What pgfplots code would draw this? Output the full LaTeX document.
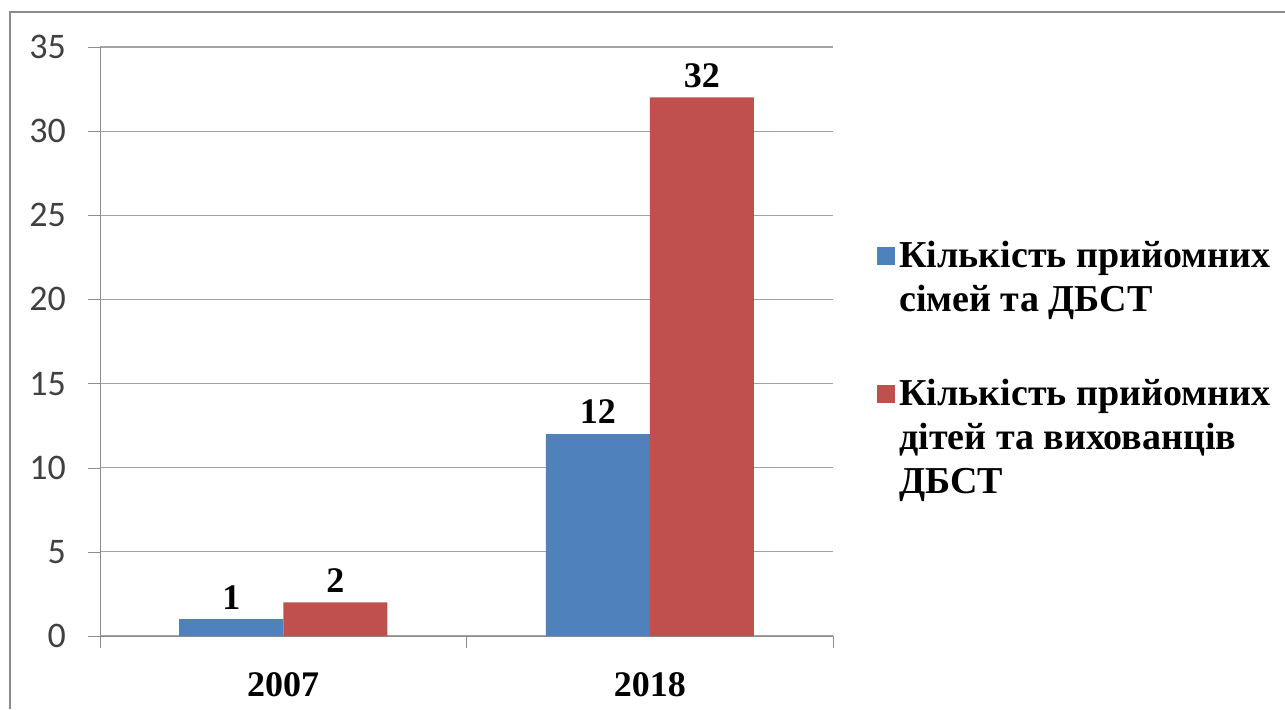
\documentclass[border=0pt]{standalone}
\usepackage{fontspec}
\setmainfont{Liberation Serif}
\newfontfamily\calibri{Carlito}
\usepackage{pgfplots}
\pgfplotsset{compat=1.18}
\definecolor{ser1}{HTML}{4F81BD}
\definecolor{ser2}{HTML}{C0504D}
\definecolor{gridc}{HTML}{8C8C8C}
\begin{document}
\begin{tikzpicture}
\useasboundingbox (0,0) rectangle (642.5pt,354.5pt);
\draw[gridc, line width=1.2pt] (5pt,0) -- (5pt,348.5pt) -- (642.5pt,348.5pt);
\begin{axis}[
 at={(50pt,36.5pt)}, anchor=south west,
 width=366.5pt, height=294.5pt, scale only axis,
 ybar=0pt, bar width=52pt,
 xmin=-0.5, xmax=1.5, ymin=0, ymax=35,
 xtick={0,1}, xticklabels={2007,2018},
 minor xtick={-0.5,0.5,1.5},
 ytick={0,5,...,35},
 axis x line*=bottom, axis y line*=left,
 axis line style={gridc, -},
 ymajorgrids, grid style={gridc!80, line width=0.6pt},
 tick align=outside, major tick length=6pt, minor tick length=6pt,
 major x tick style={draw=none},
 tick style={gridc},
 /pgf/number format/assume math mode=true,
 yticklabel style={font=\calibri\fontsize{18}{20}\selectfont, text=black!75, xshift=-7.5pt},
 xticklabel style={font=\bfseries\fontsize{18}{20}\selectfont, yshift=-8.5pt},
 nodes near coords,
 nodes near coords style={font=\bfseries\fontsize{18}{20}\selectfont, text=black, yshift=1.5pt},
 legend style={at={(1.06,0.679)}, anchor=north west, draw=none, fill=none,
   font=\bfseries\fontsize{19}{22}\selectfont, inner sep=0pt,
   nodes={align=left}, cells={anchor=north west}},
 legend image code/.code={\draw[#1, draw=none] (0pt,-5.5pt) rectangle (9pt,-14.5pt);},
]
\addplot[fill=ser1, draw=none] coordinates {(0,1) (1,12)};
\addplot[fill=ser2, draw=none] coordinates {(0,2) (1,32)};
\addlegendentry{Кількість прийомних\\ сімей та ДБСТ\\[6pt] \mbox{}}
\addlegendentry{Кількість прийомних\\ дітей та вихованців\\ ДБСТ}
\end{axis}
\end{tikzpicture}
\end{document}
